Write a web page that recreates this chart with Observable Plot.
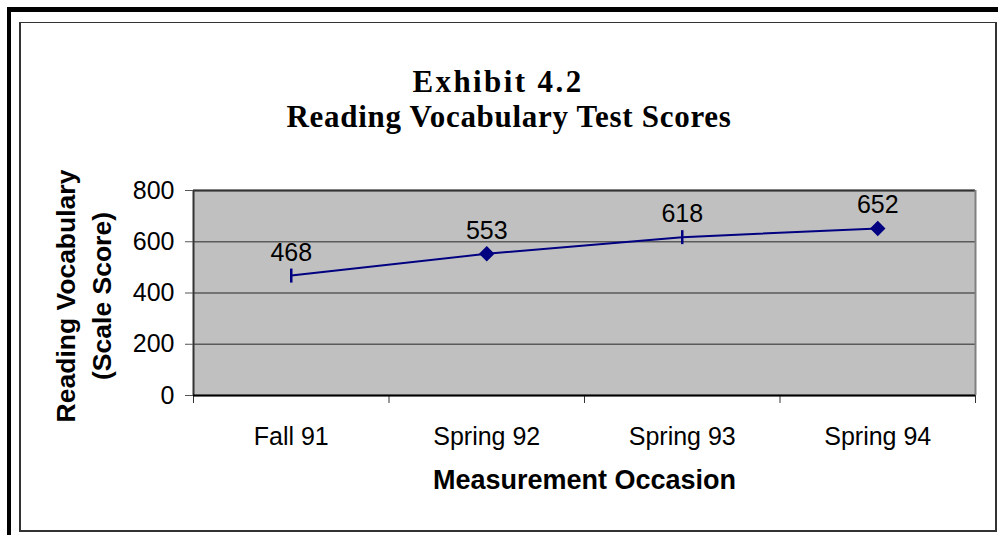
<!DOCTYPE html>
<html>
<head>
<meta charset="utf-8">
<script src="https://cdn.jsdelivr.net/npm/d3@7"></script>
<script src="https://cdn.jsdelivr.net/npm/@observablehq/plot@0.6"></script>
<style>
  html, body { margin: 0; padding: 0; background: #fff; }
  #wrap { position: relative; width: 998px; height: 535px; overflow: hidden; }
  #wrap svg { position: absolute; left: 0; top: 0; }
  .thickTop { position: absolute; left: 7px; top: 7px; width: 991px; height: 5px; background: #000; }
  .thickLeft { position: absolute; left: 7px; top: 7px; width: 4px; height: 528px; background: #000; }
  .inner { position: absolute; left: 19px; top: 22px; width: 978px; height: 510px; box-sizing: border-box;
           border: 2px solid #333; border-top-width: 1px; }
  .title { position: absolute; left: 0; width: 1018px; text-align: center;
           font-family: "Liberation Serif", "Times New Roman", serif; font-weight: bold; font-size: 31px; color: #000; line-height: 31px; }
</style>
</head>
<body>
<div id="wrap">
  <div class="thickTop"></div>
  <div class="thickLeft"></div>
  <div class="inner"></div>
  <div class="title" style="top:66px; width:996px; letter-spacing:2.4px">Exhibit 4.2</div>
  <div class="title" style="top:101px; letter-spacing:0.7px">Reading Vocabulary Test Scores</div>
</div>
<script>
const categories = ["Fall 91", "Spring 92", "Spring 93", "Spring 94"];
const scores = [468, 553, 618, 652];
const yTicks = [0, 200, 400, 600, 800];
const xTitle = "Measurement Occasion";
const yTitle = "Reading Vocabulary\n(Scale Score)";

const data = categories.map((c, i) => ({pos: i + 0.5, label: c, score: scores[i]}));
const boundaries = d3.range(categories.length + 1);

const vline = {
  draw(ctx, size) { ctx.moveTo(0, -7); ctx.lineTo(0, 7); }
};
const tickIdx = new Set([0, 2]);

const chart = Plot.plot({
  width: 998,
  height: 535,
  marginLeft: 193,
  marginRight: 23,
  marginTop: 190,
  marginBottom: 140,
  style: {background: "transparent", fontFamily: "Liberation Sans, Arial, sans-serif", color: "#000"},
  x: {domain: [0, categories.length]},
  y: {domain: [0, 800]},
  marks: [
    Plot.frame({fill: "#c0c0c0", stroke: null}),
    Plot.gridY(yTicks, {stroke: "#5a5a5a", strokeOpacity: 1, strokeWidth: 1.5}),
    Plot.ruleY([800], {stroke: "#333", strokeWidth: 2}),
    Plot.ruleX([0], {stroke: "#333", strokeWidth: 2}),
    Plot.ruleX([categories.length], {stroke: "#808080", strokeWidth: 2, y1: 800, y2: 0}),
    Plot.axisY({ticks: yTicks, tickSize: 8, tickPadding: 11, fontSize: 25, stroke: "#555", label: null}),
    Plot.axisX({ticks: boundaries, tickSize: 8, tickFormat: () => "", stroke: "#333", label: null}),
    Plot.axisX({ticks: data.map(d => d.pos), tickSize: 0, tickPadding: 32, fontSize: 25,
      tickFormat: v => categories[Math.floor(v)], label: null}),
    Plot.ruleY([0], {stroke: "#000", strokeWidth: 2}),
    Plot.line(data, {x: "pos", y: "score", stroke: "#000080", strokeWidth: 2}),
    Plot.dot(data.filter((d, i) => !tickIdx.has(i)), {x: "pos", y: "score", symbol: "diamond2", r: 6, fill: "#000080", stroke: "#000080"}),
    Plot.dot(data.filter((d, i) => tickIdx.has(i)), {x: "pos", y: "score", symbol: vline, r: 6, fill: "none", stroke: "#000080", strokeWidth: 2.5}),
    Plot.text(data, {x: "pos", y: "score", text: d => String(d.score), dy: -23, fontSize: 25, fill: "#000"}),
    Plot.text([xTitle], {frameAnchor: "bottom", dy: 93, text: d => d, fontSize: 27, fontWeight: "bold", fill: "#000"}),
    Plot.text([yTitle], {frameAnchor: "left", textAnchor: "middle", dx: -112, dy: 3, rotate: -90, text: d => d, fontSize: 26.5, fontWeight: "bold", lineHeight: 1.36, fill: "#000"})
  ]
});
document.getElementById("wrap").prepend(chart);
</script>
</body>
</html>
